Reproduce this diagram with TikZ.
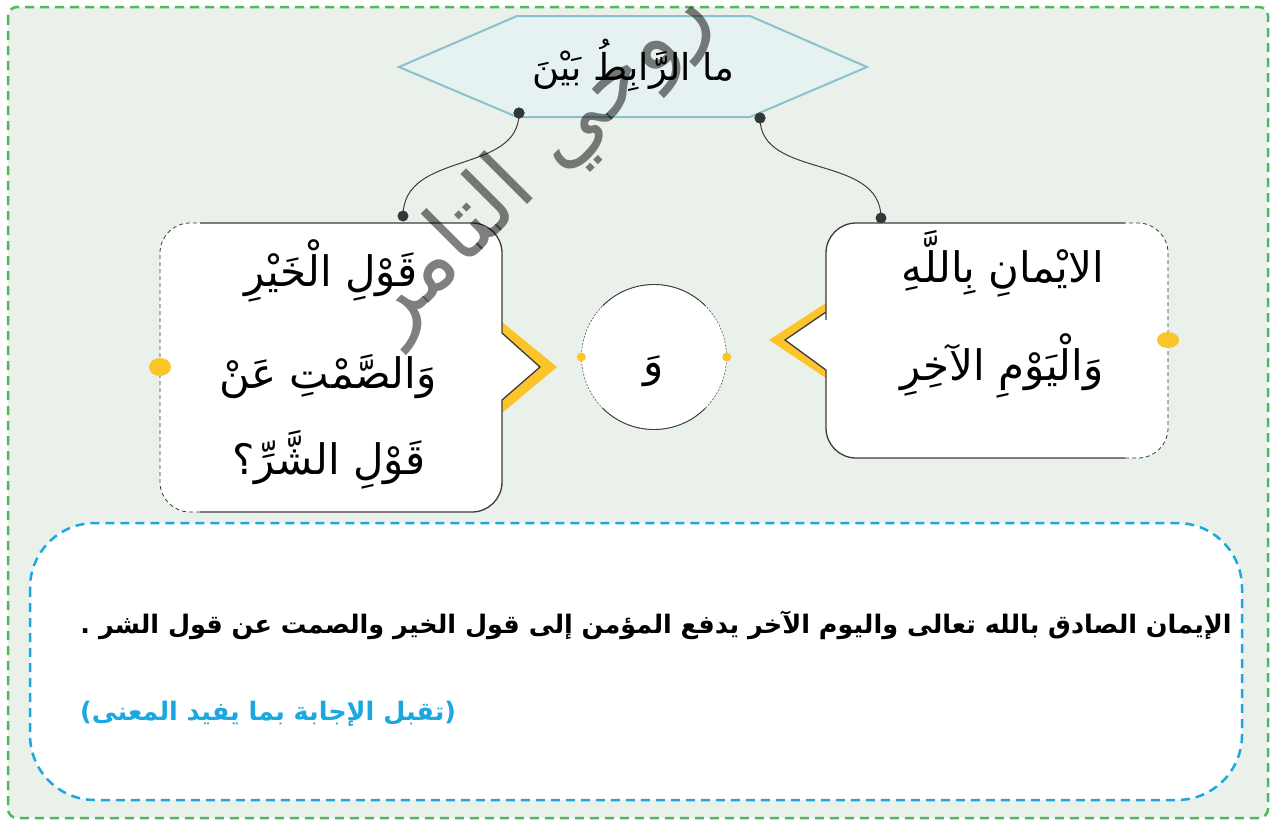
\documentclass[tikz,border=0pt]{standalone}
\usepackage{fontspec}
\TeXXeTstate=1
\newfontfamily\arabicfont[Script=Arabic]{DejaVu Sans}
\usetikzlibrary{shapes.geometric}
\definecolor{bggreen}{RGB}{234,241,235}
\definecolor{framegreen}{RGB}{80,184,92}
\definecolor{hexfill}{RGB}{230,241,241}
\definecolor{hexline}{RGB}{138,193,204}
\definecolor{ylw}{RGB}{251,196,40}
\definecolor{darkline}{RGB}{60,60,60}
\definecolor{darkdot}{RGB}{50,56,58}
\definecolor{cyanb}{RGB}{27,168,224}
\begin{document}
\begin{tikzpicture}[x=1pt,y=1pt,
  dotnode/.style={circle,fill=darkdot,inner sep=0pt,minimum size=11pt},
  bubble/.style={fill=white},
  solidedge/.style={draw=darkline,line width=1.3pt},
  dashedge/.style={draw=darkline,line width=0.8pt,dash pattern=on 4pt off 3pt},
  conn/.style={draw=darkline,line width=1pt},
  bigtxt/.style={font=\arabicfont\fontsize{42}{42}\selectfont,anchor=base,inner sep=0pt},
  hextxt/.style={font=\arabicfont\fontsize{37}{37}\selectfont,anchor=base,inner sep=0pt},
  bodytxt/.style={font=\arabicfont\bfseries\fontsize{25.5}{25.5}\selectfont,inner sep=0pt},
]
\useasboundingbox (0,0) rectangle (1273,-822);
\fill[white] (0,0) rectangle (1273,-822);
% frame
\draw[framegreen,line width=2.5pt,dash pattern=on 9pt off 6pt,fill=bggreen,rounded corners=9pt] (8,-7) rectangle (1268,-818);
% hexagon
\draw[hexline,line width=2pt,fill=hexfill] (399,-67) -- (517,-16) -- (750,-16) -- (867,-67) -- (750,-117) -- (517,-117) -- cycle;
\node[hextxt] (q) at (633,-80) {\beginR ما الرَّابِطُ بَيْنَ\endR};
% connector dots
\node[dotnode] (d1) at (519,-113) {};
\node[dotnode] (d2) at (760,-118) {};
\node[dotnode] (d3) at (403,-216) {};
\node[dotnode] (d4) at (881,-218) {};
\draw[conn] (d1.center) .. controls (519,-175) and (403,-150) .. (d3.center);
\draw[conn] (d2.center) .. controls (760,-180) and (881,-153) .. (d4.center);
\node[dotnode] at (d1) {};
\node[dotnode] at (d2) {};
% left bubble
\fill[ylw] (502,-322) -- (557,-367) -- (502,-413) -- (502,-400) -- (540,-367) -- (502,-333) -- cycle;
\path[bubble] (160,-367) [rounded corners=30pt] |- (502,-223) -- (502,-300) [sharp corners] -- (502,-333) -- (540,-367) -- (502,-400) -- (502,-430) [rounded corners=30pt] |- (160,-512) -- (160,-367) [sharp corners] -- cycle;
\draw[solidedge] (200,-223) [rounded corners=30pt] -| (502,-300) [sharp corners] -- (502,-333) -- (540,-367) -- (502,-400) -- (502,-430) [rounded corners=30pt] |- (200,-512);
\draw[dashedge] (200,-512) [rounded corners=30pt] -| (160,-367) |- (200,-223);
\fill[ylw] (160,-367) ellipse [x radius=11pt, y radius=9pt];
\node[bigtxt] (l1) at (331,-286) {\beginR قَوْلِ الْخَيْرِ\endR};
\node[bigtxt] (l2) at (328,-388) {\beginR وَالصَّمْتِ عَنْ\endR};
\node[bigtxt] (l3) at (329,-474) {\beginR قَوْلِ الشَّرِّ؟\endR};
% right bubble
\fill[ylw] (826,-303) -- (769,-340) -- (826,-378) -- (826,-370) -- (785,-340) -- (826,-312) -- cycle;
\path[bubble] (1168,-340) [rounded corners=30pt] |- (826,-223) -- (826,-290) [sharp corners] -- (826,-312) -- (785,-340) -- (826,-370) -- (826,-400) [rounded corners=30pt] |- (1168,-458) -- (1168,-340) [sharp corners] -- cycle;
\draw[solidedge] (1125,-223) [rounded corners=30pt] -| (826,-290) [sharp corners] -- (826,-312) -- (785,-340) -- (826,-370) -- (826,-400) [rounded corners=30pt] |- (1125,-458);
\draw[dashedge] (1125,-458) [rounded corners=30pt] -| (1168,-340) |- (1125,-223);
\fill[ylw] (1168,-340) ellipse [x radius=11pt, y radius=8pt];
\node[bigtxt] (r1) at (1003,-282) {\beginR الايْمانِ بِاللَّهِ\endR};
\node[bigtxt] (r2) at (1002,-380) {\beginR وَالْيَوْمِ الآخِرِ\endR};
% middle circle
\node[circle,minimum size=145pt,fill=white,inner sep=0pt] (c) at (654,-357) {};
\draw[darkline,line width=0.5pt,dash pattern=on 2pt off 1.5pt] (c.center) circle (72.5pt);
\draw[darkline,line width=0.9pt] ([shift={(45:72.5pt)}]c.center) arc[start angle=45,end angle=135,radius=72.5pt];
\draw[darkline,line width=0.9pt] ([shift={(225:72.5pt)}]c.center) arc[start angle=225,end angle=315,radius=72.5pt];
\fill[ylw] (c.west) circle (4.5pt);
\fill[ylw] (c.east) circle (4.5pt);
\node[bigtxt] (w) at (654,-376) {\beginR وَ\endR};
% answer box
\draw[cyanb,line width=2.5pt,dash pattern=on 9pt off 6pt,fill=white,rounded corners=65pt] (30,-523) rectangle (1242,-800);
\node[bodytxt,anchor=base east] (a1) at (1232,-633) {\beginR الإيمان الصادق بالله تعالى واليوم الآخر يدفع المؤمن إلى قول الخير والصمت عن قول الشر .\endR};
\node[bodytxt,anchor=base west,text=cyanb] (a2) at (80,-720) {\beginR (تقبل الإجابة بما يفيد المعنى)\endR};
% watermark
\node[font=\arabicfont\fontsize{90}{90}\selectfont,text=black,opacity=0.5,rotate=45,inner sep=0pt] (wm) at (537,-162) {\beginR روحي التامر\endR};
\end{tikzpicture}
\end{document}
